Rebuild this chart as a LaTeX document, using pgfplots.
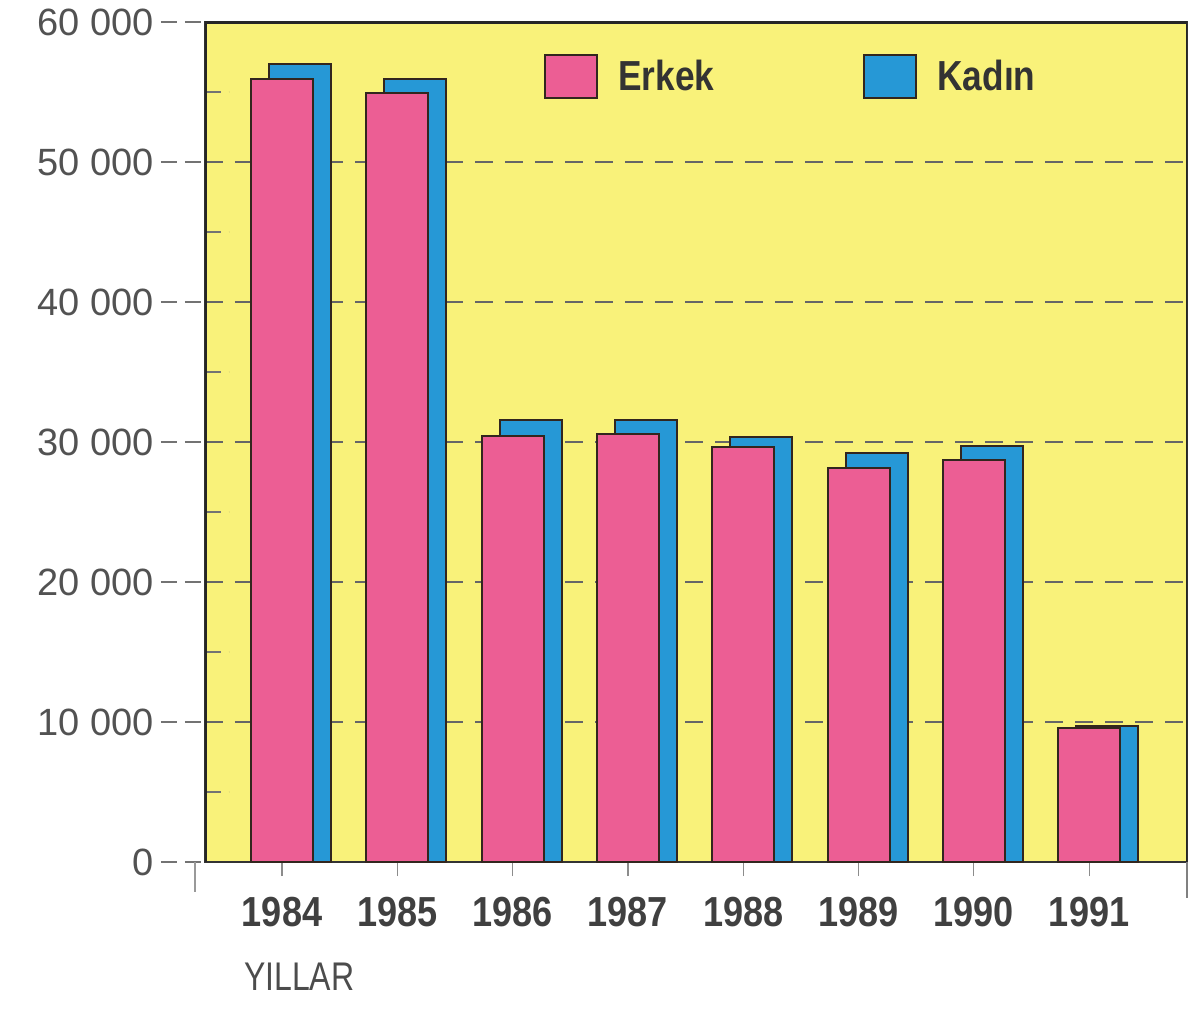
\documentclass[border=0pt]{standalone}
\usepackage{pgfplots}
\pgfplotsset{compat=1.18}
\usepackage{fontspec}
\setmainfont{Liberation Sans}
\newfontfamily\condfont[FakeStretch=0.86]{Liberation Sans}
\newfontfamily\legfont[FakeStretch=0.84]{Liberation Sans}
\newfontfamily\yilfont[FakeStretch=0.8]{Liberation Sans}
\definecolor{bgyellow}{RGB}{249,242,122}
\definecolor{epink}{RGB}{236,94,148}
\definecolor{kblue}{RGB}{38,152,214}
\definecolor{outl}{RGB}{50,38,30}
\begin{document}
\begin{tikzpicture}
\begin{axis}[
  scale only axis, width=491pt, height=420pt,
  xmin=-0.668, xmax=7.849, ymin=0, ymax=60000,
  axis background/.style={fill=bgyellow},
  axis line style={draw=black!80, line width=0.8pt},
  /pgf/number format/assume math mode=true,
  scaled y ticks=false,
  xtick pos=bottom, ytick pos=left,
  ytick={0,10000,...,60000},
  yticklabels={0,10 000,20 000,30 000,40 000,50 000,60 000},
  xtick={0,...,7},
  xticklabels={1984,1985,1986,1987,1988,1989,1990,1991},
  tick align=outside,
  major tick length=22pt,
  ytick style={black!55, line width=0.7pt, dash pattern=on 8pt off 4pt},
  xtick style={black!45, line width=0.6pt, /pgfplots/major tick length=7pt},
  ymajorgrids,
  grid style={black!60, line width=0.9pt, dash pattern=on 9pt off 6pt},
  extra y ticks={5000,15000,25000,35000,45000,55000},
  extra y tick labels={},
  extra y tick style={ymajorgrids=false, ytick pos=left, tick align=inside, /pgfplots/major tick length=12pt, tick style={black!55, solid, line width=0.8pt}},
  yticklabel style={font=\fontsize{19}{19}\selectfont, text=black!68},
  xticklabel style={font=\condfont\bfseries\fontsize{21}{21}\selectfont, text=black!75, yshift=8pt},
  legend columns=2,
  legend style={at={(0.339,0.967)}, anchor=north west, draw=none, fill=none,
    font=\legfont\bfseries\fontsize{21}{21}\selectfont, text=black!80,
    /tikz/every even column/.append style={column sep=72.5pt}},
  legend cell align=left,
  legend image code/.code={\draw[#1] (0pt,-10.75pt) rectangle (26pt,10.75pt);},
]
\addlegendimage{fill=epink, draw=outl, line width=1pt}
\addlegendentry{\hspace{8pt}Erkek}
\addlegendimage{fill=kblue, draw=outl, line width=1pt}
\addlegendentry{\hspace{8pt}Kadın}
\addplot[ybar, bar width=31pt, bar shift=9pt, fill=kblue, draw=outl, line width=1pt, forget plot]
  coordinates {(0,57000) (1,55900) (2,31600) (3,31600) (4,30350) (5,29200) (6,29700) (7,9700)};
\addplot[ybar, bar width=31pt, bar shift=0pt, fill=epink, draw=outl, line width=1pt, forget plot]
  coordinates {(0,55900) (1,54900) (2,30400) (3,30600) (4,29650) (5,28150) (6,28700) (7,9600)};
\draw[black!85, line width=2.2pt] (rel axis cs:0,0) -- (rel axis cs:0,1) -- (rel axis cs:1,1);
\draw[black!85, line width=1pt] (rel axis cs:1,1) -- (rel axis cs:1,0);
\coordinate (ll) at (rel axis cs:0,0);
\coordinate (ur) at (rel axis cs:1,1);
\end{axis}
\draw[black!40, line width=0.6pt] ([xshift=-5pt]ll) -- ++(0,-15pt);
\draw[black!50, line width=0.6pt] (ur |- ll) -- ++(0,-18pt);
\node[anchor=west, font=\yilfont\fontsize{20}{20}\selectfont, text=black!70] at ([shift={(16pt,-57.5pt)}]ll) {YILLAR};
\pgfresetboundingbox
\path[use as bounding box] ([shift={(-102.5pt,-75pt)}]ll) rectangle ([shift={(5pt,11pt)}]ur);
\end{tikzpicture}
\end{document}
